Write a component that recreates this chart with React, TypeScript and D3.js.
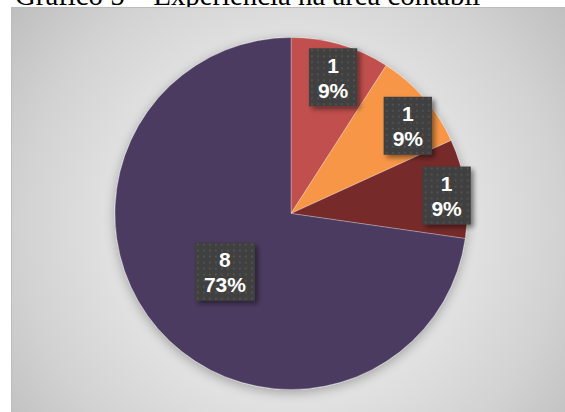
import React from "react";
import * as d3 from "d3";

const categories = ["A", "B", "C", "D"];
const values = [1, 1, 1, 8];
const percentLabels = ["9%", "9%", "9%", "73%"];
const sliceColors = ["#C0504D", "#F79646", "#772C2A", "#4B3A61"];
// label placement (fraction of radius, angular nudge in degrees)
const labelRadiusFactor = [0.81, 0.83, 0.89, 0.5];
const labelAngleNudge = [0.8, 4, 1.6, -0.4];

const title = "Gráfico 5 – Experiência na área contábil";

const W = 565;
const H = 412;

export default function App() {
  const cx = 291;
  const cy = 213.5;
  const R = 176;

  const pie = d3
    .pie<number>()
    .sort(null)
    .startAngle(0)
    .endAngle(2 * Math.PI)
    .value((d) => d);
  const arcs = pie(values);
  const arcGen = d3.arc<d3.PieArcDatum<number>>().innerRadius(0).outerRadius(R);

  const fontSize = 21;
  const measure = (s: string) => {
    // approximate Arial Bold widths
    const w: Record<string, number> = { "%": 0.889, default: 0.556 };
    let t = 0;
    for (const ch of s) t += (w[ch] ?? w.default) * fontSize;
    return t;
  };

  return (
    <svg
      width={W}
      height={H}
      style={{ position: "absolute", left: 0, top: 0 }}
      xmlns="http://www.w3.org/2000/svg"
    >
      <defs>
        <radialGradient id="bg" gradientUnits="userSpaceOnUse" cx={291} cy={225} r={360}>
          <stop offset="0" stopColor="#ededed" />
          <stop offset="0.45" stopColor="#e4e4e4" />
          <stop offset="0.75" stopColor="#d2d2d2" />
          <stop offset="1" stopColor="#bdbdbd" />
        </radialGradient>
        <filter id="pieShadow" x="-20%" y="-20%" width="140%" height="140%">
          <feGaussianBlur in="SourceAlpha" stdDeviation="6" />
          <feOffset dx="0" dy="3" result="b" />
          <feComponentTransfer>
            <feFuncA type="linear" slope="0.3" />
          </feComponentTransfer>
          <feMerge>
            <feMergeNode />
            <feMergeNode in="SourceGraphic" />
          </feMerge>
        </filter>
        <filter id="boxShadow" x="-30%" y="-30%" width="160%" height="160%">
          <feGaussianBlur in="SourceAlpha" stdDeviation="2.5" />
          <feOffset dx="3" dy="3" />
          <feComponentTransfer>
            <feFuncA type="linear" slope="0.45" />
          </feComponentTransfer>
          <feMerge>
            <feMergeNode />
            <feMergeNode in="SourceGraphic" />
          </feMerge>
        </filter>
        <pattern id="dots" width="6" height="6" patternUnits="userSpaceOnUse">
          <rect width="6" height="6" fill="#404040" />
          <circle cx="3" cy="3" r="0.9" fill="#585858" />
        </pattern>
      </defs>

      <rect x={0} y={0} width={W} height={H} fill="#ffffff" />
      <text
        x={15}
        y={4.5}
        fontFamily="'Liberation Serif', 'Times New Roman', serif"
        fontSize={28.8}
        fill="#000"
      >
        {title}
      </text>

      <rect x={11.5} y={7.5} width={W} height={H} fill="url(#bg)" stroke="#bcbcbc" strokeWidth={1} />

      <g transform={`translate(${cx},${cy})`}>
        <g filter="url(#pieShadow)">
          {arcs.map((a, i) => (
            <path
              key={categories[i]}
              d={arcGen(a) || ""}
              fill={sliceColors[i]}
              stroke="rgba(255,255,255,0.35)"
              strokeWidth={0.8}
            />
          ))}
        </g>
        {arcs.map((a, i) => {
          const mid = (a.startAngle + a.endAngle) / 2 + (labelAngleNudge[i] * Math.PI) / 180;
          const r = R * labelRadiusFactor[i];
          const [lx, ly] = d3
            .arc<any>()
            .innerRadius(r)
            .outerRadius(r)
            .startAngle(mid)
            .endAngle(mid)
            .centroid({} as any);
          const l1 = String(values[i]);
          const l2 = percentLabels[i];
          const tw = Math.max(measure(l1), measure(l2));
          const bw = tw + 18;
          const bh = 58;
          return (
            <g key={"l" + categories[i]} transform={`translate(${lx},${ly})`}>
              <rect
                x={-bw / 2}
                y={-bh / 2}
                width={bw}
                height={bh}
                fill="url(#dots)"
                filter="url(#boxShadow)"
              />
              <text
                textAnchor="middle"
                fontFamily="'Liberation Sans', Arial, sans-serif"
                fontWeight="bold"
                fontSize={fontSize}
                fill="#ffffff"
              >
                <tspan x={0} y={-4.5}>
                  {l1}
                </tspan>
                <tspan x={0} y={20.5}>
                  {l2}
                </tspan>
              </text>
            </g>
          );
        })}
      </g>
    </svg>
  );
}
